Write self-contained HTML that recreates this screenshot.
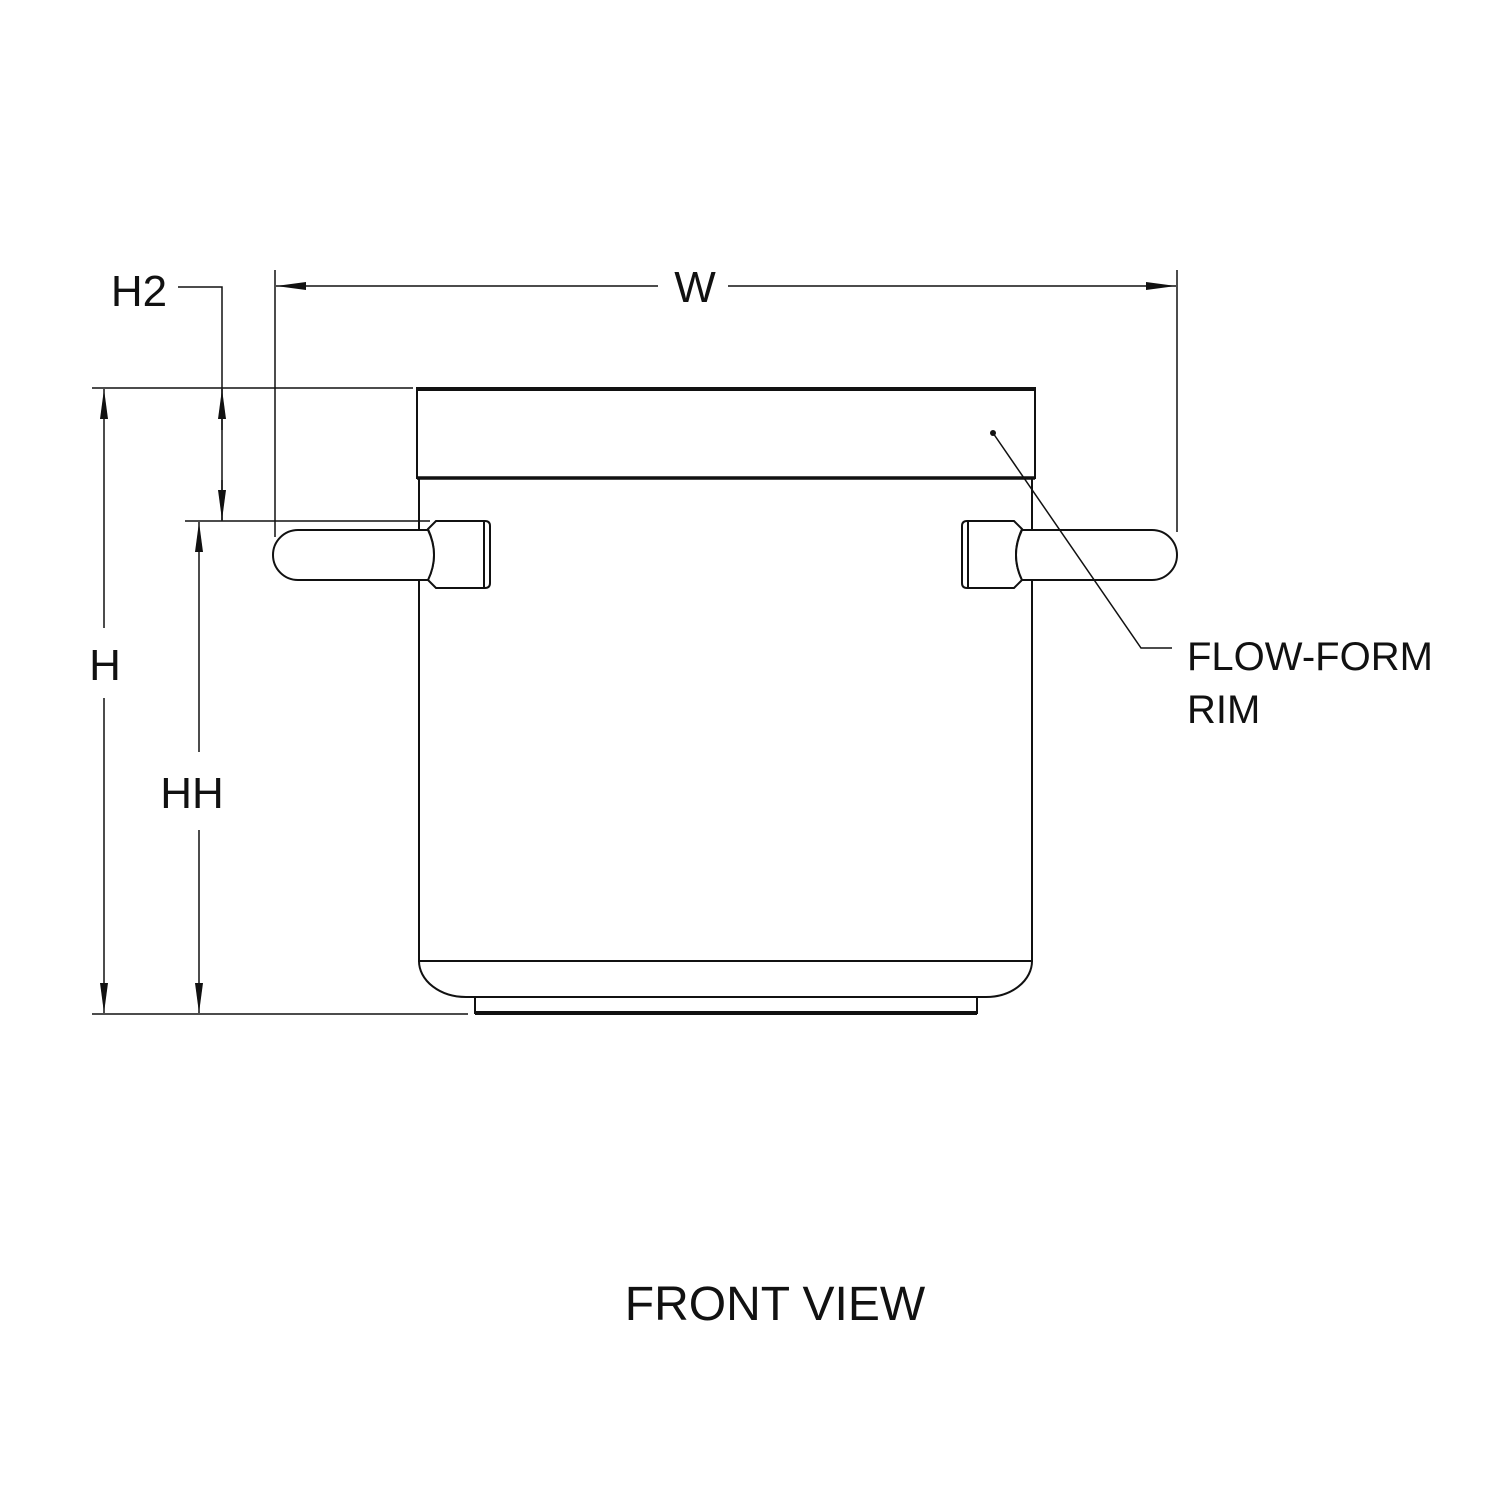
<!DOCTYPE html>
<html><head><style>body{margin:0;background:#fff}svg{display:block}</style></head><body>
<svg width="1500" height="1500" viewBox="0 0 1500 1500" xmlns="http://www.w3.org/2000/svg" font-family="Liberation Sans, sans-serif">
<defs><marker id="a" viewBox="0 0 30 10" refX="30" refY="5" markerWidth="30" markerHeight="10" markerUnits="userSpaceOnUse" orient="auto-start-reverse"><path d="M0,1L30,5L0,9z" fill="#111"/></marker></defs>
<g stroke="#111" fill="none" stroke-width="2">
<rect x="417" y="388" width="618" height="90" fill="#fff"/>
<line x1="417" y1="389" x2="1035" y2="389" stroke-width="4"/>
<line x1="417" y1="478" x2="1035" y2="478" stroke-width="3.5"/>
<path d="M419,478 V961 H1032 V478"/>
<path d="M419,961 A47,36 0 0 0 466,997 H986 A46,36 0 0 0 1032,961"/>
<path d="M475,997 V1013 H977 V997"/>
<line x1="475" y1="1013" x2="977" y2="1013" stroke-width="4"/>
<path d="M436,521 L485,521 Q490,521 490,526 V583 Q490,588 485,588 H436 L428,580 Q440,555 428,529 Z" fill="#fff"/>
<line x1="484" y1="522" x2="484" y2="587"/>
<path d="M428,530 H298 A25,25 0 0 0 298,580 H428 Q440,555 428,530 Z" fill="#fff"/>
<path d="M1014,521 L967,521 Q962,521 962,526 V583 Q962,588 967,588 H1014 L1022,580 Q1010,555 1022,529 Z" fill="#fff"/>
<line x1="968" y1="522" x2="968" y2="587"/>
<path d="M1022,530 H1152 A25,25 0 0 1 1152,580 H1022 Q1010,555 1022,530 Z" fill="#fff"/>
<line x1="275" y1="270" x2="275" y2="537" stroke-width="1.5"/>
<line x1="1177" y1="270" x2="1177" y2="532" stroke-width="1.5"/>
<line x1="92" y1="388" x2="413" y2="388" stroke-width="1.5"/>
<line x1="92" y1="1014" x2="468" y2="1014" stroke-width="1.5"/>
<line x1="185" y1="521" x2="430" y2="521" stroke-width="1.5"/>
<line x1="276" y1="286" x2="658" y2="286" stroke-width="1.5" marker-start="url(#a)"/>
<line x1="728" y1="286" x2="1176" y2="286" stroke-width="1.5" marker-end="url(#a)"/>
<line x1="104" y1="389" x2="104" y2="628" stroke-width="1.5" marker-start="url(#a)"/>
<line x1="104" y1="698" x2="104" y2="1013" stroke-width="1.5" marker-end="url(#a)"/>
<line x1="199" y1="522" x2="199" y2="752" stroke-width="1.5" marker-start="url(#a)"/>
<line x1="199" y1="830" x2="199" y2="1013" stroke-width="1.5" marker-end="url(#a)"/>
<path d="M178,287 H222 V521" stroke-width="1.5"/>
<line x1="222" y1="430" x2="222" y2="389" stroke-width="1.5" marker-end="url(#a)"/>
<line x1="222" y1="480" x2="222" y2="520" stroke-width="1.5" marker-end="url(#a)"/>
<path d="M993,433 L1141,648 H1172" stroke-width="1.5"/>
</g>
<circle cx="993" cy="433" r="3" fill="#111"/>
<g fill="#111" font-size="44" text-anchor="middle">
<text x="695" y="302">W</text>
<text x="105" y="680">H</text>
<text x="192" y="808">HH</text>
<text x="139" y="306">H2</text>
<text x="775" y="1320" font-size="48">FRONT VIEW</text>
</g>
<g fill="#111" font-size="40">
<text x="1187" y="670">FLOW-FORM</text>
<text x="1187" y="723">RIM</text>
</g>
</svg>
</body></html>
